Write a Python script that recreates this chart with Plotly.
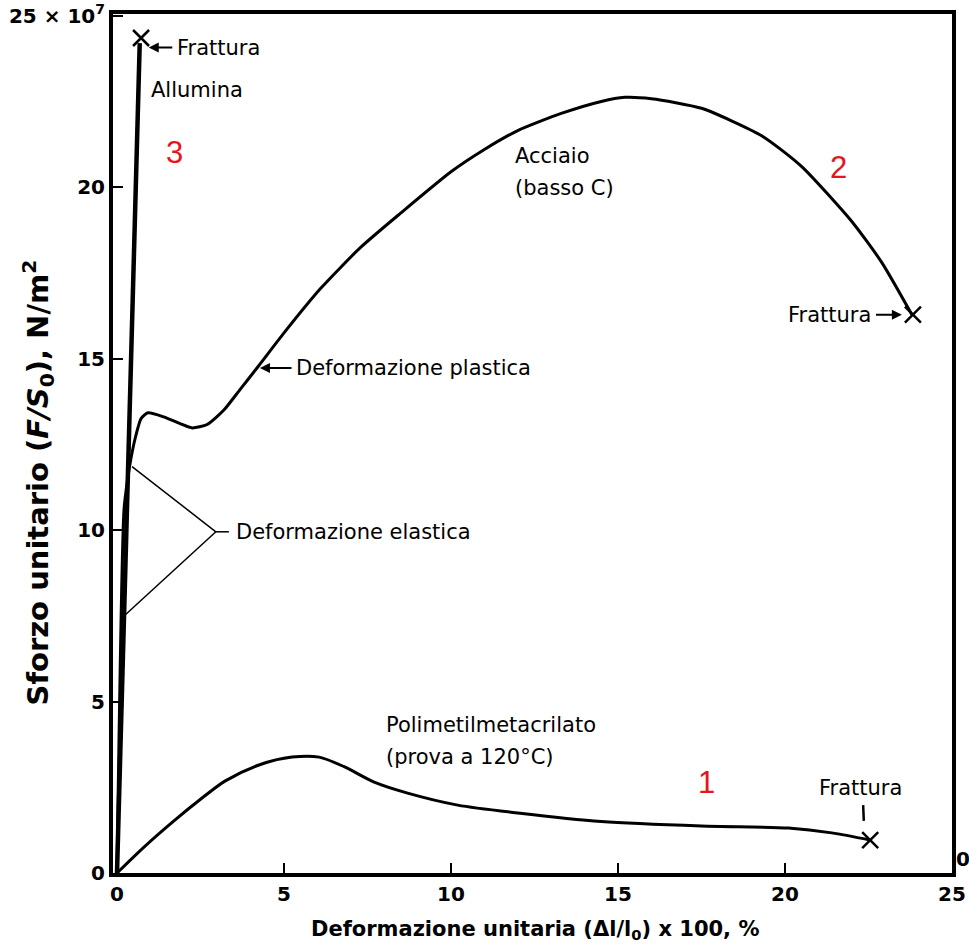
import plotly.graph_objects as go

# ---- data (strain %, stress x10^7 N/m^2) ----
allumina_x = [0.0, 0.68]
allumina_y = [0.0, 24.2]
allumina_frattura = (0.72, 24.35)

acciaio_x = [0.0, 0.21, 0.32, 0.42, 0.55, 0.72, 0.93, 1.4, 1.9, 2.25, 2.7, 3.2, 3.7, 4.25, 5.0,
             6.1, 7.3, 8.5, 10.0, 11.0, 12.0, 13.3, 14.5, 15.2, 16.0, 17.5, 19.3, 20.5, 22.0, 22.9, 23.8]
acciaio_y = [0.0, 10.6, 11.5, 12.1, 12.7, 13.25, 13.42, 13.3, 13.1, 12.98, 13.08, 13.5, 14.12, 14.8, 15.75,
             17.05, 18.25, 19.25, 20.45, 21.1, 21.65, 22.15, 22.5, 22.62, 22.58, 22.3, 21.5, 20.6, 19.0, 17.8, 16.28]
acciaio_frattura = (23.83, 16.28)

pmma_x = [0.0, 0.8, 1.74, 2.5, 3.23, 4.25, 5.24, 6.05, 6.8, 7.7, 8.7, 10.2, 12.0, 14.5, 17.5, 20.1, 21.4, 22.55]
pmma_y = [0.0, 0.75, 1.55, 2.15, 2.68, 3.15, 3.38, 3.38, 3.1, 2.65, 2.33, 1.98, 1.75, 1.5, 1.37, 1.31, 1.17, 0.96]
pmma_frattura = (22.55, 0.96)

x_ticks = [0, 5, 10, 15, 20, 25]
x_ticktext = ["0", "5", "10", "15", "20", "25"]
y_ticks = [0, 5, 10, 15, 20, 25]
y_ticktext = ["0", "5", "10", "15", "20", "25 × 10<sup>7</sup>"]

FONT = "DejaVu Sans"

fig = go.Figure()
fig.add_trace(go.Scatter(x=pmma_x, y=pmma_y, mode="lines", line=dict(color="black", width=3, shape="spline", smoothing=0.8)))
fig.add_trace(go.Scatter(x=acciaio_x, y=acciaio_y, mode="lines", line=dict(color="black", width=3, shape="spline", smoothing=0.6)))
fig.add_trace(go.Scatter(x=allumina_x, y=allumina_y, mode="lines", line=dict(color="black", width=4.5)))
fx = [allumina_frattura[0], acciaio_frattura[0], pmma_frattura[0]]
fy = [allumina_frattura[1], acciaio_frattura[1], pmma_frattura[1]]
fig.add_trace(go.Scatter(x=fx, y=fy, mode="markers",
                         marker=dict(symbol="x-thin", size=16, line=dict(color="black", width=2.5))))

ann = []
def txt(x, y, s, xa="left", size=21, color="black", bold=False):
    ann.append(dict(x=x, y=y, xref="x", yref="y", text=s, showarrow=False, xanchor=xa, yanchor="middle",
                    font=dict(family=FONT if color == "black" else "Liberation Sans", size=size, color=color,
                              weight="bold" if bold else "normal")))

def arrow(x0, y0, x1, y1):
    ann.append(dict(x=x1, y=y1, ax=x0, ay=y0, xref="x", yref="y", axref="x", ayref="y", text="",
                    showarrow=True, arrowhead=2, arrowsize=1, arrowwidth=2, arrowcolor="black"))

txt(1.74, 24.07, "Frattura")
arrow(1.70, 24.07, 0.95, 24.07)
txt(0.96, 22.84, "Allumina")
txt(1.71, 21.0, "3", xa="center", size=31, color="#e8141c")
txt(11.87, 20.9, "Acciaio")
txt(11.87, 19.98, "(basso C)")
txt(21.59, 20.57, "2", xa="center", size=31, color="#e8141c")
txt(22.63, 16.28, "Frattura", xa="right")
arrow(22.68, 16.28, 23.5, 16.28)
txt(5.29, 14.73, "Deformazione plastica")
arrow(5.27, 14.73, 4.28, 14.73)
txt(3.5, 9.95, "Deformazione elastica")
txt(7.98, 4.32, "Polimetilmetacrilato")
txt(7.98, 3.38, "(prova a 120°C)")
txt(17.64, 2.63, "1", xa="center", size=31, color="#e8141c")
txt(22.25, 2.48, "Frattura", xa="center")

# right-side "0"
ann.append(dict(x=1, y=0, xref="paper", yref="y", text="0", showarrow=False, xanchor="left", yanchor="bottom",
                xshift=2, font=dict(family=FONT, size=20, weight="bold", color="black")))
# axis titles
ann.append(dict(x=0.503, y=-0.066, xref="paper", yref="paper", showarrow=False, xanchor="center", yanchor="middle",
                text="Deformazione unitaria (Δl/l<sub>0</sub>) x 100, %",
                font=dict(family=FONT, size=21, weight="bold", color="black")))
ann.append(dict(x=-0.089, y=0.455, xref="paper", yref="paper", showarrow=False, xanchor="center", yanchor="middle",
                textangle=-90, text="Sforzo unitario (<i>F/S</i><sub>0</sub>), N/m<sup>2</sup>",
                font=dict(family=FONT, size=29, weight="bold", color="black")))

shapes = [
    dict(type="line", xref="x", yref="y", x0=2.96, y0=9.95, x1=0.45, y1=11.85, line=dict(color="black", width=1.5)),
    dict(type="line", xref="x", yref="y", x0=2.96, y0=9.95, x1=0.25, y1=7.53, line=dict(color="black", width=1.5)),
    dict(type="line", xref="x", yref="y", x0=2.96, y0=9.95, x1=3.35, y1=9.95, line=dict(color="black", width=1.5)),
    dict(type="line", xref="x", yref="y", x0=22.34, y0=1.98, x1=22.36, y1=1.52, line=dict(color="black", width=2.5)),
]

fig.update_layout(
    width=969, height=951, margin=dict(l=113, r=17, t=14, b=78),
    paper_bgcolor="white", plot_bgcolor="white", showlegend=False,
    annotations=ann, shapes=shapes,
    xaxis=dict(range=[-0.12, 25.0], tickvals=x_ticks, ticktext=x_ticktext, ticks="inside", ticklen=10, tickwidth=2,
               tickcolor="black", showline=True, linewidth=4, linecolor="black", mirror=True, showgrid=False,
               zeroline=False, automargin=False, tickfont=dict(family=FONT, size=20, weight="bold", color="black")),
    yaxis=dict(range=[0, 25.05], tickvals=y_ticks, ticktext=y_ticktext, ticks="inside", ticklen=10, tickwidth=2,
               tickcolor="black", showline=True, linewidth=4, linecolor="black", mirror=True, showgrid=False,
               zeroline=False, automargin=False, tickfont=dict(family=FONT, size=20, weight="bold", color="black")),
)
fig.write_html("out.html")
